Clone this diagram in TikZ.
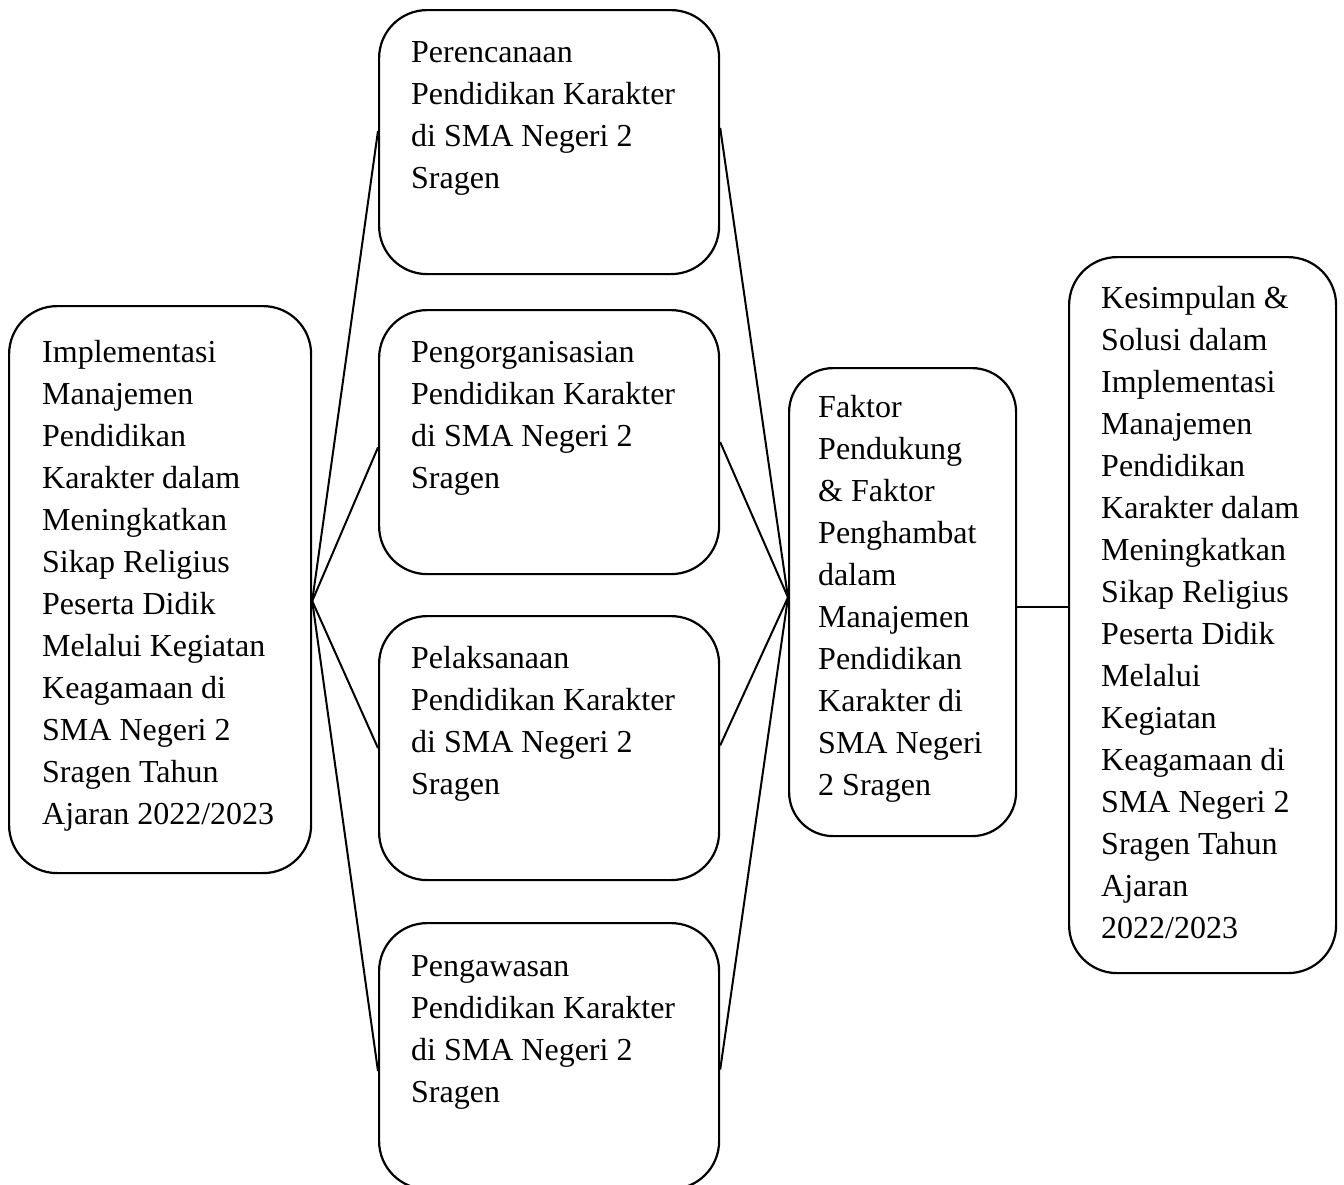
\documentclass[tikz,border=0pt]{standalone}
\usepackage{fontspec}
\setmainfont{Liberation Serif}
\usetikzlibrary{calc}
\tikzset{
  box/.style={draw, line width=2.2pt, rounded corners=48pt, anchor=north west, inner sep=0pt},
  txt/.style={anchor=base west, inner sep=0pt, font=\fontsize{32}{42}\selectfont},
  conn/.style={line width=2pt}
}
\newcommand{\lines}[1]{\begin{tabular}[t]{@{}l@{}}#1\end{tabular}}
\begin{document}
\begin{tikzpicture}[x=1pt,y=-1pt]
\useasboundingbox (0,0) rectangle (1344,1184);
\clip (0,0) rectangle (1344,1184);
\fill[white] (0,0) rectangle (1344,1184);
% boxes
\node[box, minimum width=302pt, minimum height=567pt] (L) at (8,305) {};
\node[box, minimum width=340pt, minimum height=264pt] (b1) at (378,9) {};
\node[box, minimum width=340pt, minimum height=264pt] (b2) at (378,309) {};
\node[box, minimum width=340pt, minimum height=264pt] (b3) at (378,615) {};
\node[box, minimum width=340pt, minimum height=266pt] (b4) at (378,922) {};
\node[box, minimum width=227pt, minimum height=468pt, rounded corners=44pt] (F) at (788,367) {};
\node[box, minimum width=267pt, minimum height=716pt] (K) at (1068,256) {};
% texts
\node[txt] (tL) at (42,362) {\lines{Implementasi\\Manajemen\\Pendidikan\\Karakter dalam\\Meningkatkan\\Sikap Religius\\Peserta Didik\\Melalui Kegiatan\\Keagamaan di\\SMA Negeri 2\\Sragen Tahun\\Ajaran 2022/2023}};
\node[txt] (t1) at (411,62) {\lines{Perencanaan\\Pendidikan Karakter\\di SMA Negeri 2\\Sragen}};
\node[txt] (t2) at (411,362) {\lines{Pengorganisasian\\Pendidikan Karakter\\di SMA Negeri 2\\Sragen}};
\node[txt] (t3) at (411,668) {\lines{Pelaksanaan\\Pendidikan Karakter\\di SMA Negeri 2\\Sragen}};
\node[txt] (t4) at (411,976) {\lines{Pengawasan\\Pendidikan Karakter\\di SMA Negeri 2\\Sragen}};
\node[txt] (tF) at (818,417) {\lines{Faktor\\Pendukung\\\& Faktor\\Penghambat\\dalam\\Manajemen\\Pendidikan\\Karakter di\\SMA Negeri\\2 Sragen}};
\node[txt] (tK) at (1101,308) {\lines{Kesimpulan \&\\Solusi dalam\\Implementasi\\Manajemen\\Pendidikan\\Karakter dalam\\Meningkatkan\\Sikap Religius\\Peserta Didik\\Melalui\\Kegiatan\\Keagamaan di\\SMA Negeri 2\\Sragen Tahun\\Ajaran\\2022/2023}};
% junction points on box sides
\coordinate (Lj) at ($(L.north east)!0.52!(L.south east)$);
\coordinate (Fj) at ($(F.north west)!0.49!(F.south west)$);
\coordinate (Fr) at ($(F.north east)!0.51!(F.south east)$);
% connectors
\draw[conn] (Lj) -- ($(b1.north west)!0.458!(b1.south west)$);
\draw[conn] (Lj) -- ($(b2.north west)!0.52!(b2.south west)$);
\draw[conn] (Lj) -- ($(b3.north west)!0.50!(b3.south west)$);
\draw[conn] (Lj) -- ($(b4.north west)!0.556!(b4.south west)$);
\draw[conn] ($(b1.north east)!0.447!(b1.south east)$) -- (Fj);
\draw[conn] ($(b2.north east)!0.50!(b2.south east)$) -- (Fj);
\draw[conn] ($(b3.north east)!0.49!(b3.south east)$) -- (Fj);
\draw[conn] ($(b4.north east)!0.55!(b4.south east)$) -- (Fj);
\draw[conn] (Fr) -- (Fr -| K.west);
\end{tikzpicture}
\end{document}
